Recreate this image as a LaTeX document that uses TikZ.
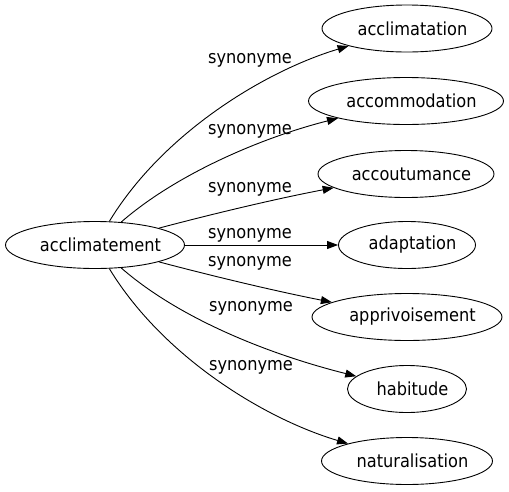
\documentclass[tikz,border=0pt]{standalone}
\usepackage{fontspec}
\setmainfont{DejaVu Sans Condensed}
\usetikzlibrary{shapes.geometric,arrows.meta}
\newcommand{\shiftword}[1]{\hspace*{11pt}#1}
\begin{document}
\begin{tikzpicture}[x=1pt,y=-1pt,
  every node/.style={font=\fontsize{18}{21}\selectfont},
  word/.style={draw,ellipse,line width=0.9pt,inner xsep=-20pt,inner ysep=0pt,minimum height=47pt},
  lbl/.style={inner sep=0pt},
  link/.style={line width=0.9pt,-{Triangle[length=11pt,width=8pt]}}]
\useasboundingbox (0,0) rectangle (509,491);
\node[word,minimum width=179pt] (src) at (95,245) {\shiftword{acclimatement}};
\node[word,minimum width=170pt] (t1) at (407,28.5) {\shiftword{acclimatation}};
\node[word,minimum width=195pt] (t2) at (406,101) {\shiftword{accommodation}};
\node[word,minimum width=176pt] (t3) at (406,174) {\shiftword{accoutumance}};
\node[word,minimum width=137pt] (t4) at (407,245) {\shiftword{adaptation}};
\node[word,minimum width=190pt] (t5) at (407,317) {\shiftword{apprivoisement}};
\node[word,minimum width=119pt] (t6) at (407,389) {\shiftword{habitude}};
\node[word,minimum width=171pt] (t7) at (407,461) {\shiftword{naturalisation}};
\draw[link] (src) .. controls (163,133) and (265,71) .. (t1);
\draw[link] (src) .. controls (175,175) and (260,138) .. (t2);
\draw[link] (src) .. controls (220,212) and (280,198) .. (t3);
\draw[link] (src) -- (t4);
\draw[link] (src) .. controls (220,278) and (280,292) .. (t5);
\draw[link] (src) .. controls (175,315) and (260,352) .. (t6);
\draw[link] (src) .. controls (163,357) and (265,419) .. (t7);
\node[lbl] (l1) at (250,60) {synonyme};
\node[lbl] (l2) at (250,131) {synonyme};
\node[lbl] (l3) at (250,189) {synonyme};
\node[lbl] (l4) at (250,235) {synonyme};
\node[lbl] (l5) at (250,263) {synonyme};
\node[lbl] (l6) at (251,308) {synonyme};
\node[lbl] (l7) at (251,367) {synonyme};
\end{tikzpicture}
\end{document}
